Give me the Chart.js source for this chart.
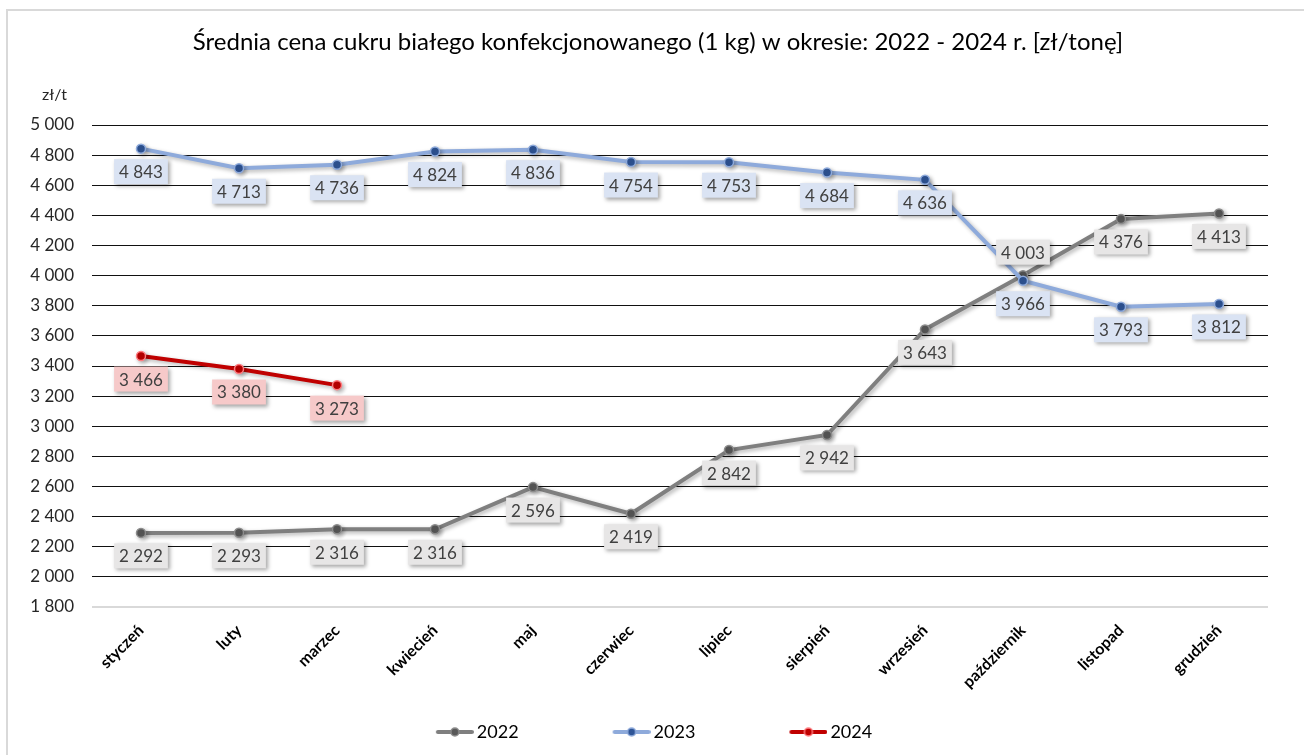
<!DOCTYPE html>
<html lang="pl">
<head>
<meta charset="utf-8">
<title>Średnia cena cukru białego</title>
<script src="https://cdn.jsdelivr.net/npm/chart.js@4.4.1/dist/chart.umd.min.js"></script>
<style>
  html, body { margin: 0; padding: 0; background: #fff; }
  #wrap { position: relative; width: 1304px; height: 755px; overflow: hidden; }
  #frame { position: absolute; left: 6px; top: 9px; width: 1330px; height: 790px; border: 2px solid #d9d9d9; pointer-events: none; }
</style>
</head>
<body>
<div id="wrap">
  <canvas id="chart" width="1304" height="755"></canvas>
  <div id="frame"></div>
</div>
<script>
// Chart data
const TITLE = 'Średnia cena cukru białego konfekcjonowanego (1 kg) w okresie: 2022 - 2024 r. [zł/tonę]';
const Y_UNIT = 'zł/t';
const months = ['styczeń', 'luty', 'marzec', 'kwiecień', 'maj', 'czerwiec', 'lipiec', 'sierpień', 'wrzesień', 'październik', 'listopad', 'grudzień'];
const seriesNames = ['2022', '2023', '2024'];
const values2022 = [2292, 2293, 2316, 2316, 2596, 2419, 2842, 2942, 3643, 4003, 4376, 4413];
const values2023 = [4843, 4713, 4736, 4824, 4836, 4754, 4753, 4684, 4636, 3966, 3793, 3812];
const values2024 = [3466, 3380, 3273, null, null, null, null, null, null, null, null, null];
const yMin = 1800;
const yMax = 5000;
const yStep = 200;

const FONT = 'Lato, "Noto Sans", sans-serif';
Chart.defaults.font.family = FONT;

// "4843" -> "4 843"
function fmt(v) {
    return String(v).replace(/\B(?=(\d{3})+(?!\d))/g, ' ');
}

// legend marker: line with a dot, blank space on the left for item spacing
const LEGEND_GAP = 64;
function legendMarker(lineColor, dotColor, ringColor) {
    const c = document.createElement('canvas');
    c.width = 44 + LEGEND_GAP;
    c.height = 14;
    const g = c.getContext('2d');
    const x0 = 6 + LEGEND_GAP;
    g.strokeStyle = lineColor;
    g.lineWidth = 4;
    g.lineCap = 'round';
    g.beginPath();
    g.moveTo(x0 + 2, 7);
    g.lineTo(x0 + 36, 7);
    g.stroke();
    g.beginPath();
    g.arc(x0 + 19, 7, 4, 0, Math.PI * 2);
    g.fillStyle = dotColor;
    g.fill();
    g.lineWidth = 1.5;
    g.strokeStyle = ringColor;
    g.stroke();
    return c;
}

const markers = [
    legendMarker('#7f7f7f', '#595959', '#8c8c8c'),
    legendMarker('#8eaadb', '#2f5597', '#8eaadb'),
    legendMarker('#c00000', '#c00000', '#ff7c80')
];

// soft shadow under lines
const lineShadow = {
    id: 'lineShadow',
    beforeDatasetDraw(chart) {
        const c = chart.ctx;
        c.save();
        c.shadowColor = 'rgba(0,0,0,0.3)';
        c.shadowBlur = 4;
        c.shadowOffsetX = 2;
        c.shadowOffsetY = 2;
    },
    afterDatasetDraw(chart) {
        chart.ctx.restore();
    }
};

// boxed value labels
const valueLabels = {
    id: 'valueLabels',
    afterDatasetsDraw(chart) {
        const ctx = chart.ctx;
        ctx.save();
        ctx.font = '17px ' + FONT;
        ctx.textAlign = 'center';
        ctx.textBaseline = 'middle';
        chart.data.datasets.forEach((ds, di) => {
            const meta = chart.getDatasetMeta(di);
            meta.data.forEach((pt, i) => {
                const v = ds.data[i];
                if (v == null) return;
                const text = fmt(v);
                const w = ctx.measureText(text).width + 10;
                const h = 25;
                const above = (ds.labelAbove || []).includes(i);
                const cy = pt.y + (above ? -23 : 23);
                ctx.save();
                ctx.shadowColor = 'rgba(0,0,0,0.35)';
                ctx.shadowBlur = 4;
                ctx.shadowOffsetX = 2;
                ctx.shadowOffsetY = 2;
                ctx.fillStyle = ds.labelFill;
                ctx.fillRect(pt.x - w / 2, cy - h / 2, w, h);
                ctx.restore();
                ctx.fillStyle = '#404040';
                ctx.fillText(text, pt.x, cy + 1);
            });
        });
        ctx.restore();
    }
};

// title and unit text
const headerText = {
    id: 'headerText',
    afterDraw(chart) {
        const ctx = chart.ctx;
        ctx.save();
        ctx.fillStyle = '#000';
        ctx.textAlign = 'center';
        ctx.textBaseline = 'middle';
        ctx.font = '24px ' + FONT;
        ctx.fillText(TITLE, 658, 42);
        ctx.font = '16px ' + FONT;
        ctx.fillStyle = '#262626';
        ctx.textAlign = 'left';
        ctx.fillText(Y_UNIT, 42, 95);
        ctx.restore();
    }
};

const lineStyle = {
    borderWidth: 4,
    pointRadius: 4.5,
    pointHoverRadius: 5,
    pointBorderWidth: 1.5,
    tension: 0,
    fill: false
};

new Chart(document.getElementById('chart'), {
    type: 'line',
    data: {
        labels: months,
        datasets: [
            Object.assign({
                label: seriesNames[0],
                data: values2022,
                borderColor: '#7f7f7f',
                pointBackgroundColor: '#595959',
                pointBorderColor: '#8c8c8c',
                labelFill: '#e7e6e6',
                labelAbove: [9],
                order: 1
            }, lineStyle),
            Object.assign({
                label: seriesNames[1],
                data: values2023,
                borderColor: '#8eaadb',
                pointBackgroundColor: '#2f5597',
                pointBorderColor: '#8eaadb',
                labelFill: '#dae3f3',
                order: 0
            }, lineStyle),
            Object.assign({
                label: seriesNames[2],
                data: values2024,
                borderColor: '#c00000',
                pointBackgroundColor: '#c00000',
                pointBorderColor: '#ff7c80',
                labelFill: '#f6c9c9',
                order: 0
            }, lineStyle)
        ]
    },
    options: {
        responsive: false,
        animation: false,
        layout: { padding: { left: -24, right: 36, top: 125, bottom: 4 } },
        plugins: {
            title: { display: false },
            legend: {
                position: 'bottom',
                labels: {
                    usePointStyle: true,
                    pointStyleWidth: 32 + LEGEND_GAP,
                    padding: 30,
                    color: '#000',
                    font: { size: 18 },
                    sort: (a, b) => a.datasetIndex - b.datasetIndex,
                    generateLabels(chart) {
                        const items = Chart.defaults.plugins.legend.labels.generateLabels(chart);
                        items.forEach(it => { it.pointStyle = markers[it.datasetIndex]; });
                        return items;
                    }
                }
            },
            tooltip: { enabled: false }
        },
        scales: {
            x: {
                offset: true,
                grid: { display: false, drawTicks: false },
                border: { display: false },
                ticks: {
                    autoSkip: false,
                    maxRotation: 45,
                    minRotation: 45,
                    padding: 14,
                    color: '#000',
                    font: { size: 16, weight: 'bold' }
                },
                afterFit(s) { s.height = 86; }
            },
            y: {
                min: yMin,
                max: yMax,
                border: { display: false },
                grid: {
                    drawTicks: false,
                    color: c => c.tick.value === yMin ? '#d9d9d9' : '#111',
                    lineWidth: c => c.tick.value === yMin ? 2 : 1
                },
                ticks: {
                    stepSize: yStep,
                    padding: 18,
                    color: '#262626',
                    font: { size: 17 },
                    callback: v => fmt(v)
                },
                afterFit(s) { s.width = 116; }
            }
        }
    },
    plugins: [lineShadow, valueLabels, headerText]
});
</script>
</body>
</html>
